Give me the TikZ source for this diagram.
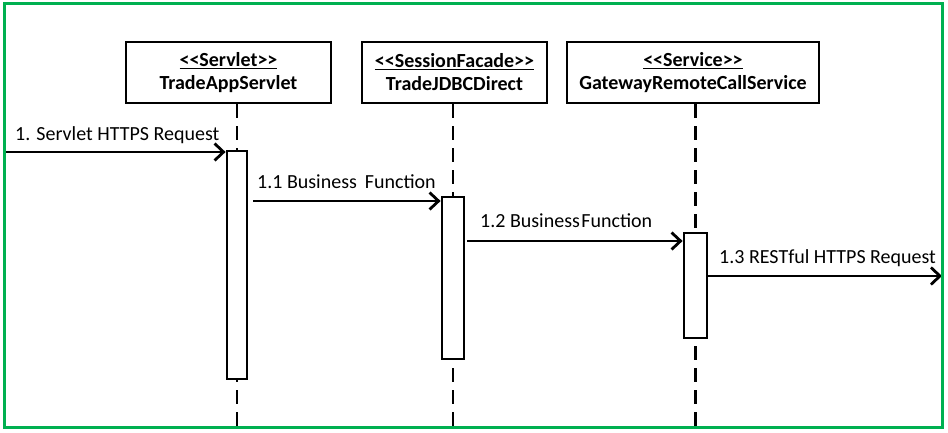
\documentclass[tikz,border=0pt]{standalone}
\usepackage{fontspec}
\setmainfont{Carlito}
\usetikzlibrary{arrows.meta,backgrounds}
\definecolor{framegreen}{RGB}{0,176,80}
\begin{document}
\begin{tikzpicture}[x=1pt,y=-1pt,
  objbox/.style={draw, line width=2.8pt, fill=white, minimum height=61pt, inner sep=0pt, align=center, font=\bfseries\fontsize{20}{23}\selectfont},
  actbox/.style={draw, line width=2.8pt, fill=white, inner sep=0pt},
  lifeline/.style={line width=2.8pt, dash pattern=on 14pt off 8pt},
  msg/.style={line width=2.8pt, -{Straight Barb[length=9pt,width=17pt,line width=2.8pt]}},
  msglabel/.style={anchor=base west, inner sep=0pt, font=\fontsize{20}{24}\selectfont},
  frameline/.style={draw=framegreen, line width=3pt},
]
\useasboundingbox (0,0) rectangle (948,433);

% object boxes
\node[objbox, minimum width=205pt] (b1) at (228.5,72.5) {\underline{<{}<Servlet>{}>}\\TradeAppServlet};
\node[objbox, minimum width=185pt] (b2) at (454.5,72.5) {\underline{<{}<SessionFacade>{}>}\\TradeJDBCDirect};
\node[objbox, minimum width=252pt] (b3) at (693,72.5) {\underline{<{}<Service>{}>}\\GatewayRemoteCallService};

% activation bars
\node[actbox, minimum width=20pt, minimum height=228pt] (a1) at (237,265) {};
\node[actbox, minimum width=22pt, minimum height=162pt] (a2) at (453,278) {};
\node[actbox, minimum width=23pt, minimum height=105pt] (a3) at (695.5,285.5) {};

% frame corners for lifeline ends
\coordinate (fbot) at (0,427);
\coordinate (in1) at (4,152);
\coordinate (out4) at (942,276);

% lifelines
\begin{scope}[on background layer]
  \draw[lifeline] (a1 |- b1.south) -- (a1 |- fbot);
  \draw[lifeline] (a2 |- b2.south) -- (a2 |- fbot);
  \draw[lifeline] (a3 |- b3.south) -- (a3 |- fbot);
\end{scope}

% messages
\coordinate (s2) at (253,201);
\coordinate (s3) at (467,241);
\coordinate (s4) at (707,276);
\draw[msg] (in1) -- (in1 -| a1.west);
\draw[msg] (s2) -- (s2 -| a2.west);
\draw[msg] (s3) -- (s3 -| a3.west);
\draw[msg] (s4 -| a3.east) -- (out4);

% message labels
\node[msglabel] (t1) at (15,141) {1. Servlet HTTPS Request};
\node[msglabel] (t2) at (257,188) {1.1 Business\hspace{8pt}Function};
\node[msglabel] (t3) at (480,227) {1.2 Business\hspace{1.5pt}Function};
\node[msglabel] (t4) at (719,263) {1.3 RESTful HTTPS Request};

% outer frame
\draw[frameline] (4,4) rectangle (942,427);
\end{tikzpicture}
\end{document}
